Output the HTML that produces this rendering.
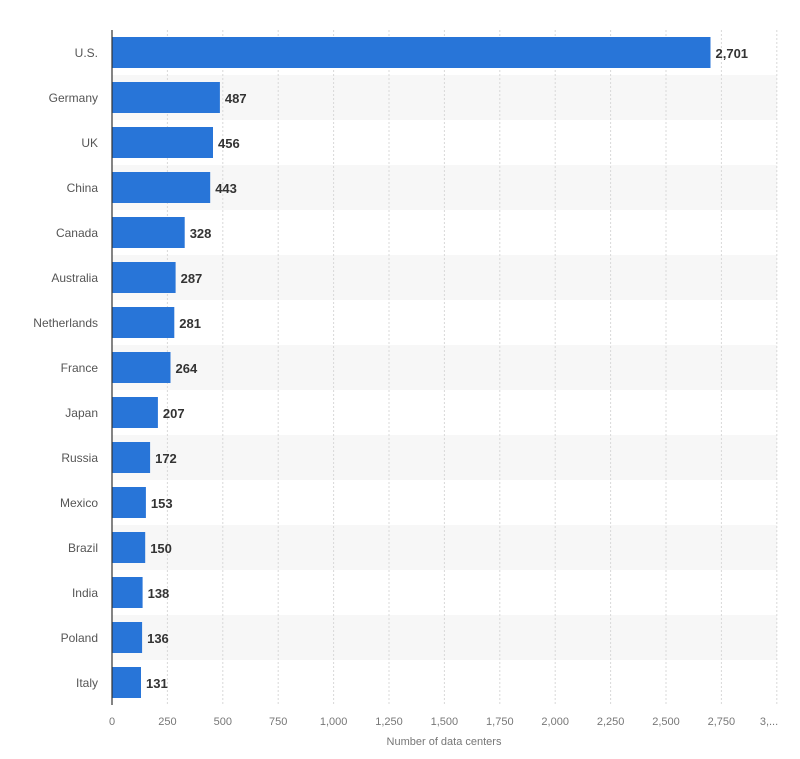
<!DOCTYPE html><html><head><style>body{margin:0;background:#fff}</style></head><body>
<svg width="800" height="754" xmlns="http://www.w3.org/2000/svg" font-family="Liberation Sans, sans-serif">
<g fill="#f7f7f7">
<rect x="112" y="75" width="665" height="45"/>
<rect x="112" y="165" width="665" height="45"/>
<rect x="112" y="255" width="665" height="45"/>
<rect x="112" y="345" width="665" height="45"/>
<rect x="112" y="435" width="665" height="45"/>
<rect x="112" y="525" width="665" height="45"/>
<rect x="112" y="615" width="665" height="45"/>
</g>
<g stroke="#d8d8d8" stroke-dasharray="2,2">
<line x1="167.4" y1="30" x2="167.4" y2="705"/>
<line x1="222.8" y1="30" x2="222.8" y2="705"/>
<line x1="278.2" y1="30" x2="278.2" y2="705"/>
<line x1="333.6" y1="30" x2="333.6" y2="705"/>
<line x1="389" y1="30" x2="389" y2="705"/>
<line x1="444.4" y1="30" x2="444.4" y2="705"/>
<line x1="499.8" y1="30" x2="499.8" y2="705"/>
<line x1="555.2" y1="30" x2="555.2" y2="705"/>
<line x1="610.6" y1="30" x2="610.6" y2="705"/>
<line x1="666" y1="30" x2="666" y2="705"/>
<line x1="721.4" y1="30" x2="721.4" y2="705"/>
<line x1="776.8" y1="30" x2="776.8" y2="705"/>
</g>
<g font-size="11" fill="#777" text-anchor="middle">
<text x="112" y="725">0</text>
<text x="167.4" y="725">250</text>
<text x="222.8" y="725">500</text>
<text x="278.2" y="725">750</text>
<text x="333.6" y="725">1,000</text>
<text x="389" y="725">1,250</text>
<text x="444.4" y="725">1,500</text>
<text x="499.8" y="725">1,750</text>
<text x="555.2" y="725">2,000</text>
<text x="610.6" y="725">2,250</text>
<text x="666" y="725">2,500</text>
<text x="721.4" y="725">2,750</text>
<text x="769" y="725">3,...</text>
<text x="444" y="745">Number of data centers</text>
</g>
<g fill="#2875d8">
<rect x="112" y="37" width="598.5" height="31"/>
<rect x="112" y="82" width="107.9" height="31"/>
<rect x="112" y="127" width="101" height="31"/>
<rect x="112" y="172" width="98.2" height="31"/>
<rect x="112" y="217" width="72.7" height="31"/>
<rect x="112" y="262" width="63.6" height="31"/>
<rect x="112" y="307" width="62.3" height="31"/>
<rect x="112" y="352" width="58.5" height="31"/>
<rect x="112" y="397" width="45.9" height="31"/>
<rect x="112" y="442" width="38.1" height="31"/>
<rect x="112" y="487" width="33.9" height="31"/>
<rect x="112" y="532" width="33.2" height="31"/>
<rect x="112" y="577" width="30.6" height="31"/>
<rect x="112" y="622" width="30.1" height="31"/>
<rect x="112" y="667" width="29" height="31"/>
</g>
<g font-size="12" fill="#555" text-anchor="end">
<text x="98" y="57">U.S.</text>
<text x="98" y="102">Germany</text>
<text x="98" y="147">UK</text>
<text x="98" y="192">China</text>
<text x="98" y="237">Canada</text>
<text x="98" y="282">Australia</text>
<text x="98" y="327">Netherlands</text>
<text x="98" y="372">France</text>
<text x="98" y="417">Japan</text>
<text x="98" y="462">Russia</text>
<text x="98" y="507">Mexico</text>
<text x="98" y="552">Brazil</text>
<text x="98" y="597">India</text>
<text x="98" y="642">Poland</text>
<text x="98" y="687">Italy</text>
</g>
<g font-size="13" font-weight="bold" fill="#333">
<text x="715.5" y="58">2,701</text>
<text x="224.9" y="103">487</text>
<text x="218" y="148">456</text>
<text x="215.2" y="193">443</text>
<text x="189.7" y="238">328</text>
<text x="180.6" y="283">287</text>
<text x="179.3" y="328">281</text>
<text x="175.5" y="373">264</text>
<text x="162.9" y="418">207</text>
<text x="155.1" y="463">172</text>
<text x="150.9" y="508">153</text>
<text x="150.2" y="553">150</text>
<text x="147.6" y="598">138</text>
<text x="147.1" y="643">136</text>
<text x="146" y="688">131</text>
</g>
<line x1="112" y1="30" x2="112" y2="705" stroke="#333" stroke-width="1.2"/>
</svg></body></html>
